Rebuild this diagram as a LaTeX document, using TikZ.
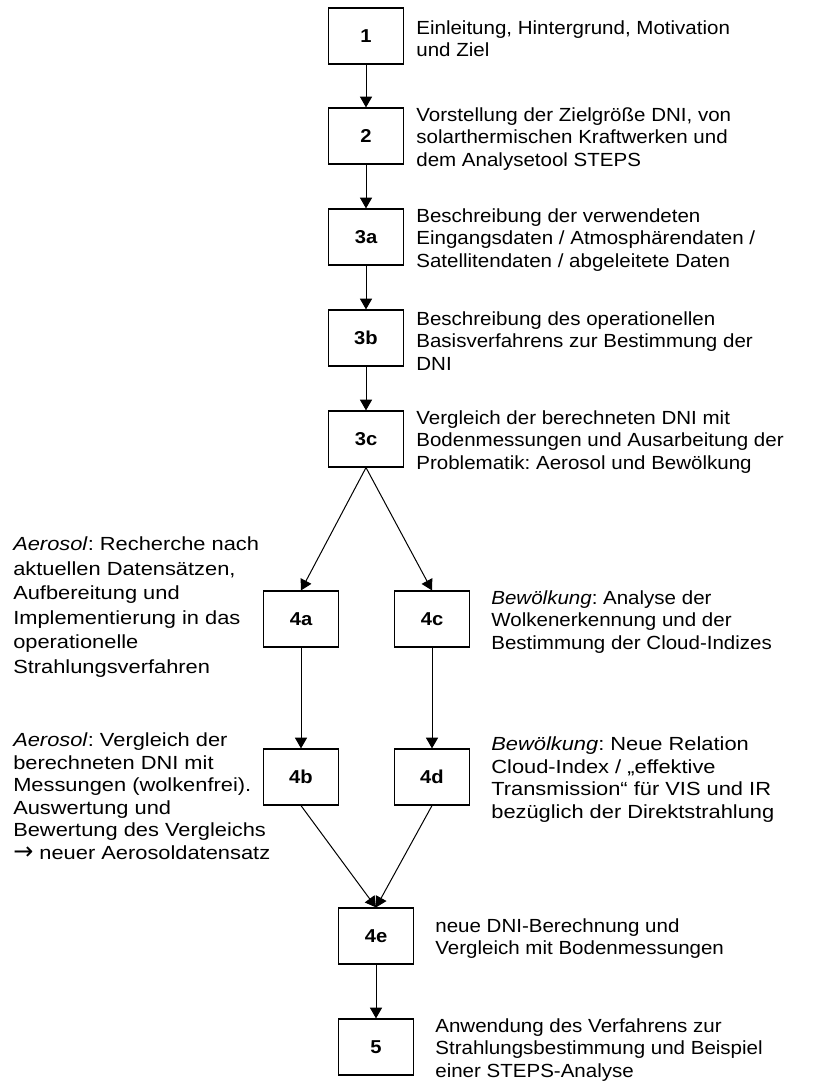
\documentclass[tikz,border=0pt]{standalone}
\usepackage{fontspec}
\setmainfont{Liberation Sans}[FakeStretch=1.08]
\newfontfamily\widefont{Liberation Sans}[FakeStretch=1.15]
\newfontfamily\arrowfont{DejaVu Sans}
\usetikzlibrary{arrows.meta,positioning}
\frenchspacing

\begin{document}
\begin{tikzpicture}[
    x=0.75pt, y=-0.75pt,
    box/.style={rectangle, draw, line width=0.9pt, minimum width=56.25pt, minimum height=42pt,
        inner sep=0pt, font=\fontsize{14}{16}\selectfont\bfseries},
    note/.style={inner sep=0pt, align=left, yshift=-2pt, font=\fontsize{14.25}{16.9}\selectfont},
    widenote/.style={note, font=\widefont\fontsize{14.25}{16.9}\selectfont},
    arrow/.style={-{Triangle[width=9pt, length=8pt]}, line width=0.75pt}
]
\useasboundingbox (0,0) rectangle (817,1088);

% Main column
\node[box] (b1)  at (366,36)  {1};
\node[box] (b2)  at (366,136) {2};
\node[box] (b3a) at (366,237) {3a};
\node[box] (b3b) at (366,338) {3b};
\node[box] (b3c) at (366,439) {3c};

% Branches
\node[box] (b4a) at (301,619) {4a};
\node[box] (b4c) at (432,619) {4c};
\node[box] (b4b) at (301,777) {4b};
\node[box] (b4d) at (432,777) {4d};

% Merge
\node[box] (b4e) at (376,936)  {4e};
\node[box] (b5)  at (376,1047) {5};

% Descriptions
\node[note, right=9pt of b1]  (t1)  {Einleitung, Hintergrund, Motivation\\und Ziel};
\node[note, right=9pt of b2]  (t2)  {Vorstellung der Zielgröße DNI, von\\solarthermischen Kraftwerken und\\dem Analysetool STEPS};
\node[note, right=9pt of b3a] (t3a) {Beschreibung der verwendeten\\Eingangsdaten / Atmosphärendaten /\\Satellitendaten / abgeleitete Daten};
\node[note, right=9pt of b3b] (t3b) {Beschreibung des operationellen\\Basisverfahrens zur Bestimmung der\\DNI};
\node[note, right=9pt of b3c] (t3c) {Vergleich der berechneten DNI mit\\Bodenmessungen und Ausarbeitung der\\Problematik: Aerosol und Bewölkung};
\node[note, right=15.75pt of b4c] (t4c) {\textit{Bewölkung}: Analyse der\\Wolkenerkennung und der\\Bestimmung der Cloud-Indizes};
\node[widenote, right=15.75pt of b4d] (t4d) {\textit{Bewölkung}: Neue Relation\\Cloud-Index / „effektive\\Transmission“ für VIS und IR\\bezüglich der Direktstrahlung};
\node[note, right=15.75pt of b4e] (t4e) {neue DNI-Berechnung und\\Vergleich mit Bodenmessungen};
\node[note, right=15.75pt of b5]  (t5)  {Anwendung des Verfahrens zur\\Strahlungsbestimmung und Beispiel\\einer STEPS-Analyse};
\node[widenote, anchor=west, yshift=2pt, font=\widefont\fontsize{14.25}{18.4}\selectfont] (t4a) at (13,607)
    {\textit{Aerosol}: Recherche nach\\aktuellen Datensätzen,\\Aufbereitung und\\Implementierung in das\\operationelle\\Strahlungsverfahren};
\node[widenote, anchor=west, yshift=2pt] (t4b) at (13,796)
    {\textit{Aerosol}: Vergleich der\\berechneten DNI mit\\Messungen (wolkenfrei).\\Auswertung und\\Bewertung des Vergleichs\\{\arrowfont\fontsize{18}{16.9}\selectfont →} neuer Aerosoldatensatz};

% Arrows
\draw[arrow] (b1) -- (b2);
\draw[arrow] (b2) -- (b3a);
\draw[arrow] (b3a) -- (b3b);
\draw[arrow] (b3b) -- (b3c);
\draw[arrow] (b3c.south) -- (b4a.north);
\draw[arrow] (b3c.south) -- (b4c.north);
\draw[arrow] (b4a) -- (b4b);
\draw[arrow] (b4c) -- (b4d);
\draw[arrow] (b4b.south) -- (b4e.north);
\draw[arrow] (b4d.south) -- (b4e.north);
\draw[arrow] (b4e) -- (b5);
\end{tikzpicture}
\end{document}
